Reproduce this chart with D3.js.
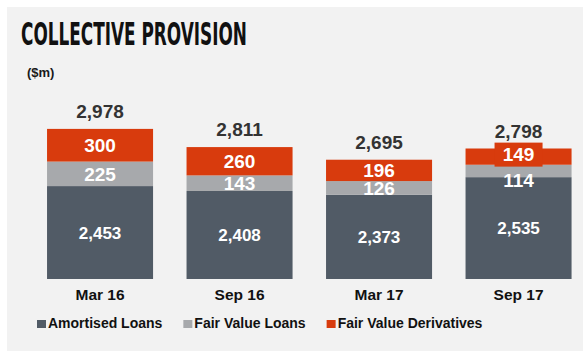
<!DOCTYPE html>
<html>
<head>
<meta charset="utf-8">
<script src="https://cdn.jsdelivr.net/npm/d3@7"></script>
<style>
  body { margin: 0; background: #fff; }
  text { font-family: Arial, "Liberation Sans", sans-serif; }
</style>
</head>
<body>
<div id="chart"></div>
<script>
// data
var periods = ["Mar 16", "Sep 16", "Mar 17", "Sep 17"];
var seriesNames = ["Amortised Loans", "Fair Value Loans", "Fair Value Derivatives"];
var amortised = [2453, 2408, 2373, 2535];
var fairValueLoans = [225, 143, 126, 114];
var fairValueDeriv = [300, 260, 196, 149];
var totals = [2978, 2811, 2695, 2798];
var colors = ["#515b66", "#a7a9ac", "#d83b0d"];

var width = 583, height = 351;

var svg = d3.select("#chart")
  .append("svg")
    .attr("width", width)
    .attr("height", height);

// grey panel
svg.append("rect")
  .attr("x", 7).attr("y", 7)
  .attr("width", width - 7).attr("height", height - 7)
  .attr("fill", "#f2f2f2");

// title
svg.append("text")
  .attr("x", 21).attr("y", 45)
  .attr("textLength", 226)
  .attr("lengthAdjust", "spacingAndGlyphs")
  .style("font-family", "'DejaVu Sans Condensed', 'Liberation Sans Narrow', Arial, sans-serif")
  .style("font-size", "32px")
  .style("font-weight", "bold")
  .attr("fill", "#111")
  .text("COLLECTIVE PROVISION");

svg.append("text")
  .attr("x", 27).attr("y", 77)
  .style("font-size", "13px")
  .style("font-weight", "bold")
  .attr("fill", "#1a1a1a")
  .text("($m)");

// stack the series
var table = periods.map(function(p, i) {
  return {period: p, s0: amortised[i], s1: fairValueLoans[i], s2: fairValueDeriv[i], total: totals[i]};
});
var stack = d3.stack().keys(["s0", "s1", "s2"]);
var layers = stack(table);

var x = d3.scaleBand()
  .domain(periods)
  .range([30.3, 588.3])
  .paddingInner(0.24)
  .paddingOuter(0.12);

// axis does not start at zero in the original
var y = d3.scaleLinear()
  .domain([1600, 3000])
  .range([279, 126.5]);

var g = svg.append("g");

layers.forEach(function(layer, li) {
  g.selectAll(".bar" + li)
    .data(layer)
    .enter()
    .append("rect")
      .attr("x", function(d) { return x(d.data.period); })
      .attr("width", x.bandwidth())
      .attr("y", function(d) { return y(Math.max(d[1], 1600)); })
      .attr("height", function(d) { return y(Math.max(d[0], 1600)) - y(d[1]); })
      .attr("fill", colors[li]);
});

// segment labels
var redBoxBottom = {};
// red (top) labels, with a box when the segment is too thin
layers[2].forEach(function(d) {
  var cx = x(d.data.period) + x.bandwidth() / 2;
  var cy = (y(d[0]) + y(d[1])) / 2;
  var h = y(d[0]) - y(d[1]);
  if (h < 17) {
    cy = cy - 2;
    g.append("rect")
      .attr("x", cx - 24).attr("y", cy - 12)
      .attr("width", 48).attr("height", 24)
      .attr("fill", colors[2]);
    redBoxBottom[d.data.period] = cy + 12;
  }
  g.append("text")
    .attr("x", cx).attr("y", cy)
    .attr("dy", "0.36em")
    .attr("text-anchor", "middle")
    .style("font-size", "19px")
    .style("font-weight", "bold")
    .attr("fill", "#fff")
    .text(d3.format(",")(d.data.s2));
});

layers[1].forEach(function(d) {
  var cx = x(d.data.period) + x.bandwidth() / 2;
  var cy = (y(d[0]) + y(d[1])) / 2;
  if (redBoxBottom[d.data.period] !== undefined) {
    cy = Math.max(cy, redBoxBottom[d.data.period] + 14);
  }
  g.append("text")
    .attr("x", cx).attr("y", cy)
    .attr("dy", "0.36em")
    .attr("text-anchor", "middle")
    .style("font-size", "19px")
    .style("font-weight", "bold")
    .attr("fill", "#fff")
    .text(d3.format(",")(d.data.s1));
});

layers[0].forEach(function(d) {
  var cx = x(d.data.period) + x.bandwidth() / 2;
  var cy = (y(Math.max(d[0], 1600)) + y(d[1])) / 2;
  g.append("text")
    .attr("x", cx).attr("y", cy)
    .attr("dy", "0.36em")
    .attr("text-anchor", "middle")
    .style("font-size", "17px")
    .style("font-weight", "bold")
    .attr("fill", "#fff")
    .text(d3.format(",")(d.data.s0));
});

// totals
g.selectAll(".total")
  .data(table)
  .enter()
  .append("text")
    .attr("x", function(d) { return x(d.period) + x.bandwidth() / 2; })
    .attr("y", function(d) { return y(d.total) - 11; })
    .attr("text-anchor", "middle")
    .style("font-size", "19px")
    .style("font-weight", "bold")
    .attr("fill", "#333")
    .text(function(d) { return d3.format(",")(d.total); });

// category labels
g.selectAll(".cat")
  .data(periods)
  .enter()
  .append("text")
    .attr("x", function(d) { return x(d) + x.bandwidth() / 2; })
    .attr("y", 300)
    .attr("text-anchor", "middle")
    .style("font-size", "15.5px")
    .style("font-weight", "bold")
    .attr("fill", "#111")
    .text(function(d) { return d; });

// legend
var lx = 37;
seriesNames.forEach(function(name, i) {
  svg.append("rect")
    .attr("x", lx).attr("y", 320)
    .attr("width", 9).attr("height", 8)
    .attr("fill", colors[i]);
  var t = svg.append("text")
    .attr("x", lx + 11).attr("y", 328)
    .style("font-size", "14px")
    .style("font-weight", "bold")
    .attr("fill", "#111")
    .text(name);
  lx = lx + 11 + t.node().getComputedTextLength() + 21;
});
</script>
</body>
</html>
